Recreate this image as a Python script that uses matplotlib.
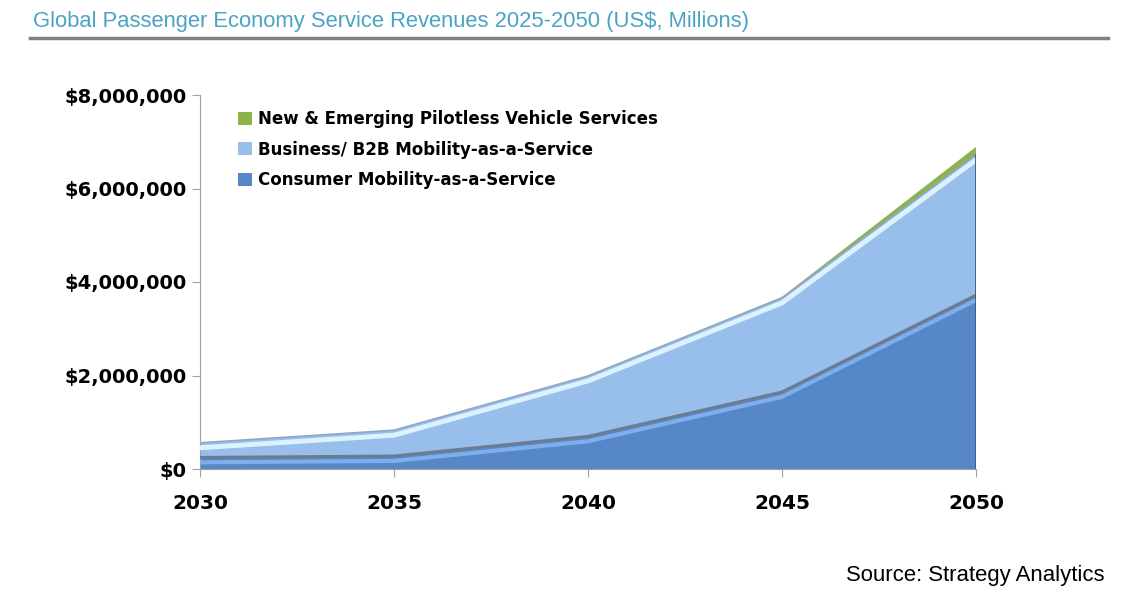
import numpy as np
import matplotlib.pyplot as plt
import matplotlib.transforms as mtransforms
from matplotlib.ticker import FuncFormatter

# data (US$)
years = [2030, 2035, 2040, 2045, 2050]
consumer = [250000, 280000, 700000, 1650000, 3720000]
business = [310000, 550000, 1290000, 2010000, 3000000]
emerging = [0, 0, 0, 20000, 170000]
labels = ["Consumer Mobility-as-a-Service",
          "Business/ B2B Mobility-as-a-Service",
          "New & Emerging Pilotless Vehicle Services"]
colors = ["#5687C6", "#98BFEC", "#8DB34C"]
yticks = [0, 2000000, 4000000, 6000000, 8000000]

fig = plt.figure(figsize=(11.34, 6), dpi=100)
ax = fig.add_axes([200/1134, 131/600, 776/1134, 374/600])

series = [consumer, business, emerging]
ax.stackplot(years, *series, colors=colors, labels=labels, zorder=2)

# fake the bevelled 3d look of the original
tops = np.cumsum(np.array(series, dtype=float), axis=0)
off = mtransforms.offset_copy(ax.transData, fig=fig, x=0, y=-5, units="dots")
ax.plot(years, tops[0], color="#6E7B8C", lw=2, zorder=3)
ax.plot(years, tops[0], color="#7FAEEA", lw=3, zorder=3, transform=off)
ax.plot(years, tops[1], color="#8FA6C6", lw=1.2, zorder=3)
ax.plot(years, tops[1], color="#DDF2FF", lw=3.5, zorder=3, transform=off)
ax.plot([2050, 2050], [0, tops[1][-1]], color="#3E5A80", lw=2, zorder=4)

ax.set_xlim(2030, 2050)
ax.set_ylim(0, 8000000)
ax.set_xticks(years)
ax.set_yticks(yticks)
ax.yaxis.set_major_formatter(FuncFormatter(lambda v, p: "${:,.0f}".format(v)))
for s in ["top", "right"]:
    ax.spines[s].set_visible(False)
for s in ["left", "bottom"]:
    ax.spines[s].set_color("#A0A0A0")
ax.tick_params(axis="both", colors="#A0A0A0", length=6, labelcolor="black",
               labelsize=14)
ax.tick_params(axis="x", pad=12, labelsize=14.5)
for t in ax.get_xticklabels() + ax.get_yticklabels():
    t.set_fontweight("bold")

h, l = ax.get_legend_handles_labels()
ax.legend(h[::-1], l[::-1], loc="upper left", bbox_to_anchor=(0.03, 1.0),
          frameon=False, prop={"weight": "bold", "size": 12},
          handlelength=0.8, handleheight=0.8, handletextpad=0.4,
          labelspacing=0.75)

fig.text(33/1134, 1 - 22/600, "Global Passenger Economy Service Revenues 2025-2050 (US$, Millions)",
         color="#4BA3C3", fontsize=15.8, family="Liberation Sans", va="center")
fig.add_artist(plt.Line2D([30/1134, 1108/1134], [1 - 38/600, 1 - 38/600],
                          color="#808080", lw=2.5))
fig.text(1104/1134, 1 - 576/600, "Source: Strategy Analytics", ha="right",
         va="center", fontsize=15.9, family="Liberation Sans")

fig.savefig("out.png", dpi=100)
